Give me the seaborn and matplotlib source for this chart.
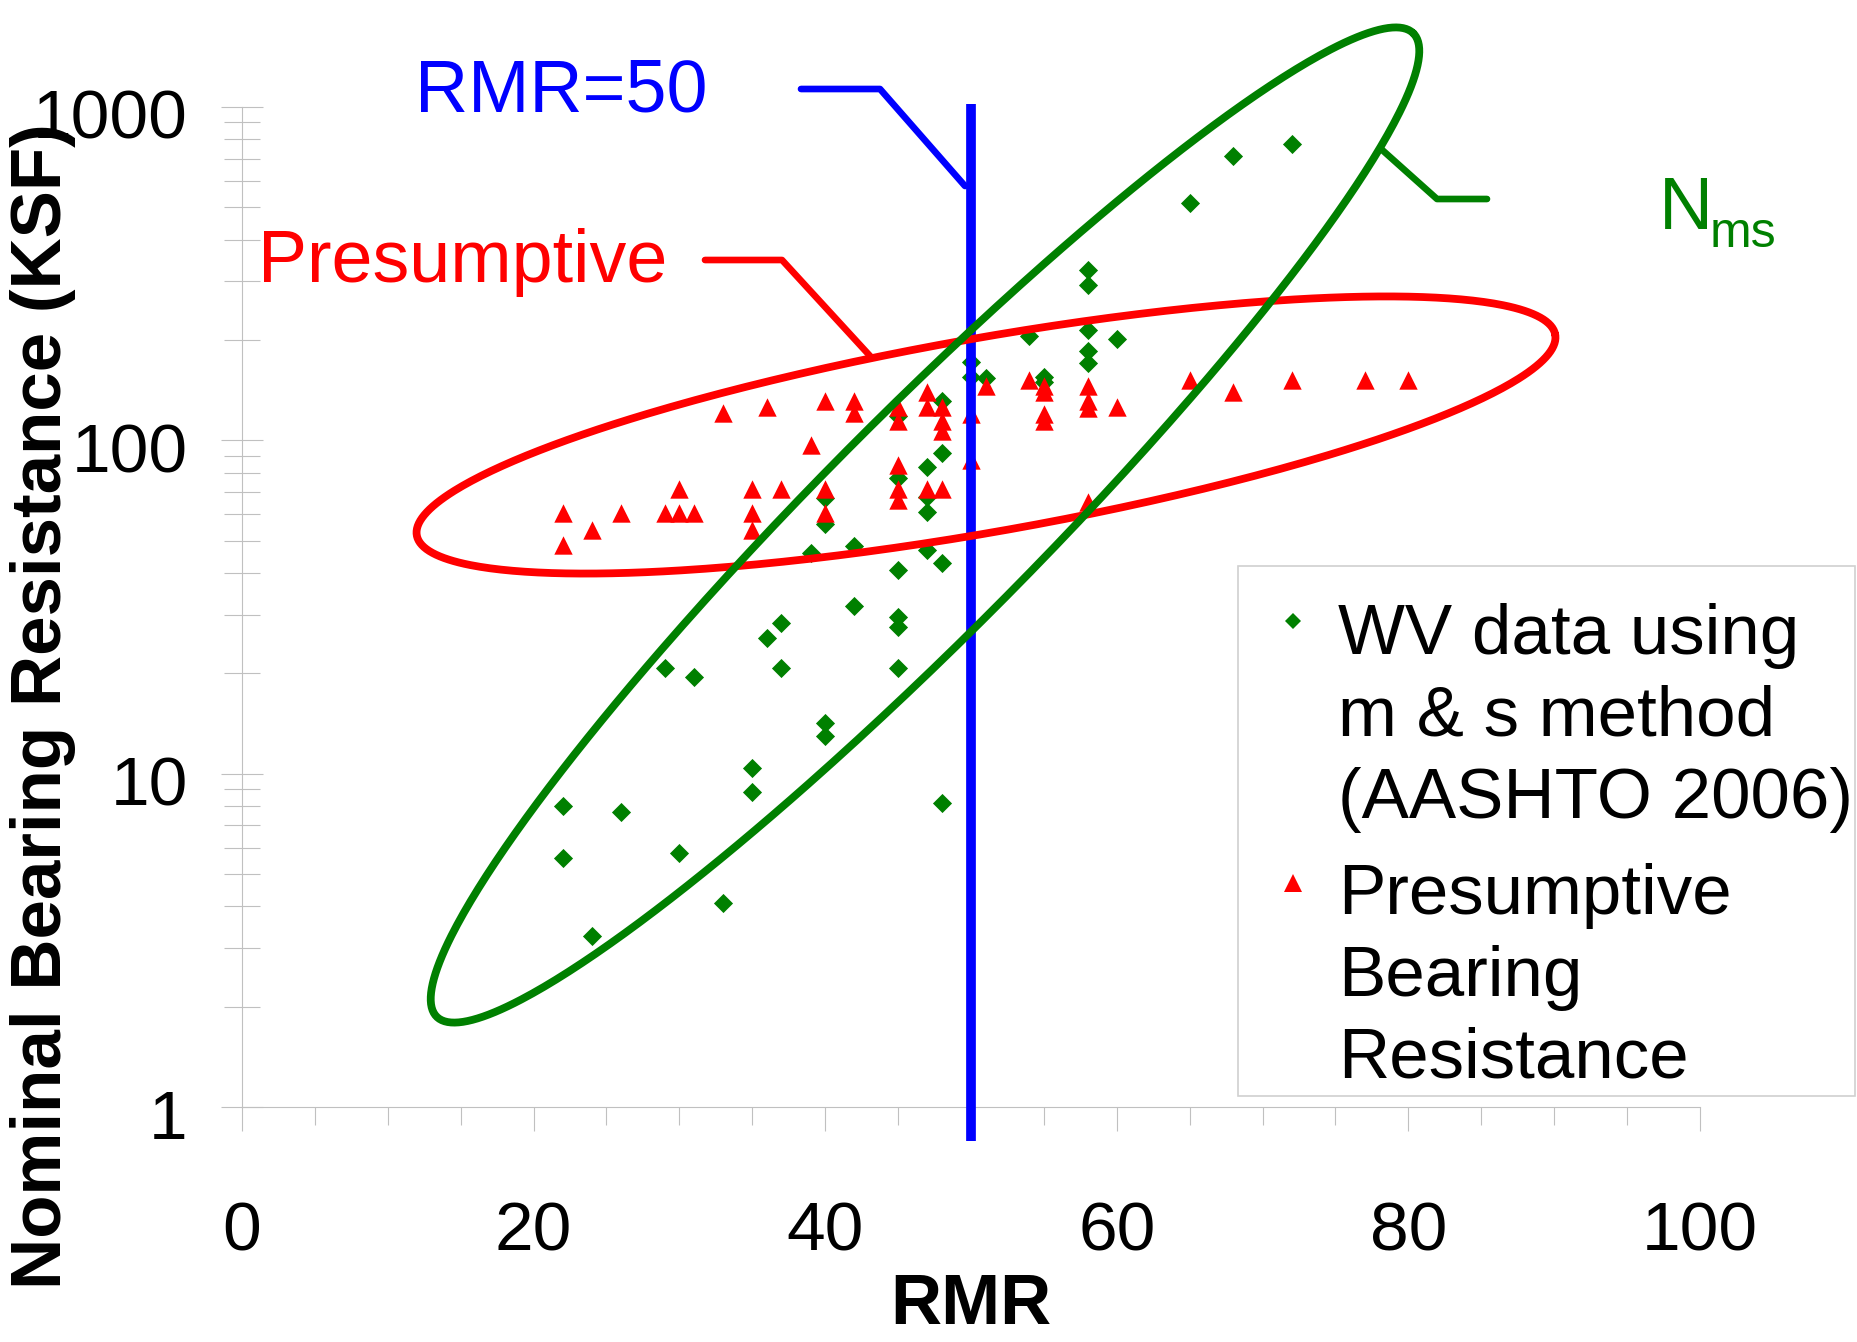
# Bearing resistance vs RMR, WV data (m & s) and presumptive values

import numpy as np
import pandas as pd
import matplotlib
matplotlib.use("Agg")
import matplotlib.pyplot as plt
import seaborn as sns
from matplotlib.lines import Line2D
from matplotlib.patches import Rectangle
from matplotlib.ticker import FixedLocator, LogLocator, NullFormatter
from matplotlib.transforms import ScaledTranslation

# --- data ---
wv_rmr = [22, 22, 24, 26, 29, 30, 31, 33, 35, 35, 36, 37, 37, 39, 40, 40, 40, 40,
          42, 42, 45, 45, 45, 45, 45, 45, 47, 47, 47, 47, 48, 48, 48, 48,
          50, 50, 51, 54, 55, 55, 58, 58, 58, 58, 58, 60, 65, 68, 72]
wv_ksf = [8.0, 5.6, 3.25, 7.7, 20.7, 5.8, 19.5, 4.1, 10.4, 8.8, 25.5, 28.3, 20.7, 45.8,
          14.2, 13.0, 56, 67, 31.9, 48.2, 20.7, 27.6, 29.5, 40.9, 77, 118,
          47, 61, 67.5, 83, 8.15, 43, 91.4, 131, 155, 172, 154, 205, 150, 155,
          171, 185, 214, 293, 325, 202, 517, 715, 775]

pres_rmr = [22, 22, 24, 26, 29, 30, 30, 31, 33, 35, 35, 35, 36, 37, 39, 40, 40, 40,
            42, 42, 45, 45, 45, 45, 45, 47, 47, 47, 48, 48, 48, 48, 50, 50, 51,
            54, 55, 55, 55, 55, 58, 58, 58, 58, 60, 65, 68, 72, 77, 80]
pres_ksf = [48.5, 60.7, 53.9, 60.7, 60.7, 60.7, 71.3, 60.7, 121, 53.9, 60.7, 71.3,
            126, 71.3, 97, 60.7, 71.3, 131.6, 120.5, 131.6, 66, 71.3, 84.4, 114, 126,
            71.3, 126, 140, 71.3, 107, 114, 126, 87, 120, 146, 152, 114, 120, 140,
            146, 65.5, 125, 131, 146, 126, 152, 140, 152, 152, 152]

x_ticks = [0, 20, 40, 60, 80, 100]
y_ticks = [1, 10, 100, 1000]
y_tick_labels = ["1", "10", "100", "1000"]
rmr_cut = 50
legend_labels = ["WV data using\nm & s method\n(AASHTO 2006)",
                 "Presumptive\nBearing\nResistance"]

df_wv = pd.DataFrame({"RMR": wv_rmr, "KSF": wv_ksf})
df_pres = pd.DataFrame({"RMR": pres_rmr, "KSF": pres_ksf})

GREEN, RED, BLUE, GREY = "#008000", "#ff0000", "#0000ff", "#c0c0c0"

sns.set_style("white")
plt.rcParams["font.family"] = ["Liberation Sans", "DejaVu Sans"]
plt.rcParams["text.color"] = "black"
plt.rcParams["xtick.labelcolor"] = "black"
plt.rcParams["ytick.labelcolor"] = "black"

W, H = 1858, 1342
fig = plt.figure(figsize=(W / 100, H / 100), dpi=100)
ax = fig.add_axes([242 / W, 1 - 1107 / H, 1458 / W, 1000 / H])


def fig_xy(x, y):
    # pixel position in the picture -> figure fraction
    return np.asarray(x) / W, 1 - np.asarray(y) / H


def ellipse_px(cx, cy, a, b, ang):
    t = np.linspace(0, 2 * np.pi, 500)
    th = np.radians(ang)
    x = cx + a * np.cos(t) * np.cos(th) - b * np.sin(t) * np.sin(th)
    y = cy - (a * np.cos(t) * np.sin(th) + b * np.sin(t) * np.cos(th))
    return x, y


sns.scatterplot(data=df_wv, x="RMR", y="KSF", marker="D", color=GREEN, s=95,
                linewidth=0, ax=ax, zorder=3, legend=False)
sns.scatterplot(data=df_pres, x="RMR", y="KSF", marker="^", color=RED, s=175,
                linewidth=0, ax=ax, zorder=4, legend=False)

ax.set_yscale("log")
ax.set_xlim(0, 100)
ax.set_ylim(1, 1000)

# RMR = 50 line
ax.plot([rmr_cut, rmr_cut], [0.79, 1020], color=BLUE, lw=7, clip_on=False, zorder=6,
        solid_capstyle="butt")

# axes styling
for side in ["top", "right"]:
    ax.spines[side].set_visible(False)
for side in ["left", "bottom"]:
    ax.spines[side].set_color(GREY)
    ax.spines[side].set_linewidth(0.8)

ax.xaxis.set_major_locator(FixedLocator(x_ticks))
ax.xaxis.set_minor_locator(FixedLocator(np.arange(0, 101, 5)))
ax.set_xticklabels([str(v) for v in x_ticks])
ax.yaxis.set_major_locator(FixedLocator(y_ticks))
ax.set_yticklabels(y_tick_labels)
ax.yaxis.set_minor_locator(LogLocator(base=10, subs=np.arange(2, 10)))
ax.yaxis.set_minor_formatter(NullFormatter())

ax.tick_params(axis="x", which="major", direction="out", length=17, width=0.8,
               color=GREY, labelsize=50, pad=50, bottom=True)
ax.tick_params(axis="x", which="minor", direction="out", length=13, width=0.8,
               color=GREY, bottom=True)
ax.tick_params(axis="y", which="major", direction="inout", length=30, width=0.8,
               color=GREY, labelsize=50, pad=24, left=True)
ax.tick_params(axis="y", which="minor", direction="inout", length=26, width=0.8,
               color=GREY, left=True)
# nudge y tick labels slightly down, as in the reference
shift = ScaledTranslation(0, -5 / 72, fig.dpi_scale_trans)
for lab in ax.get_yticklabels():
    lab.set_transform(lab.get_transform() + shift)
ax.set_xlabel("")
ax.set_ylabel("")

fig.text(*fig_xy(971, 1306), "RMR", fontsize=51, fontweight="bold",
         ha="center", va="center")
fig.text(*fig_xy(43, 706), "Nominal Bearing Resistance (KSF)", fontsize=51,
         fontweight="bold", rotation=90, ha="center", va="center")

# ellipses around each group
ex, ey = ellipse_px(986, 435, 578, 97, 10)
fig.add_artist(Line2D(*fig_xy(ex, ey), color=RED, lw=5.6, zorder=7))
ex, ey = ellipse_px(925, 525, 693, 108, 45.2)
fig.add_artist(Line2D(*fig_xy(ex, ey), color=GREEN, lw=5.6, zorder=7))

# callouts
fig.add_artist(Line2D(*fig_xy([801, 880, 965], [89, 89, 186]), color=BLUE, lw=4.8, zorder=7))
fig.add_artist(Line2D(*fig_xy([705, 782, 871], [260, 260, 357]), color=RED, lw=4.8, zorder=7))
fig.add_artist(Line2D(*fig_xy([1487, 1437, 1380], [199, 199, 148]), color=GREEN, lw=4.8, zorder=7))

fig.text(*fig_xy(415, 112), "RMR=50", color=BLUE, fontsize=53, va="baseline")
fig.text(*fig_xy(258, 282), "Presumptive", color=RED, fontsize=53, va="baseline")
fig.text(*fig_xy(1659, 229), "N", color=GREEN, fontsize=54, va="baseline")
fig.text(*fig_xy(1710, 247), "ms", color=GREEN, fontsize=36, va="baseline")

# legend box
lx, ly = fig_xy(1238, 1096)
fig.add_artist(Rectangle((lx, ly), 617 / W, 530 / H, transform=fig.transFigure,
                         facecolor="white", edgecolor="#d0d0d0", lw=1.2, zorder=8))
fig.add_artist(Line2D(*fig_xy([1293], [621]), marker="D", ms=8.5, color=GREEN,
                      mew=0, lw=0, zorder=9))
fig.add_artist(Line2D(*fig_xy([1293], [883]), marker="^", ms=12.5, color=RED,
                      mew=0, lw=0, zorder=9))
for label, base in zip(legend_labels, [654, 914]):
    for i, line in enumerate(label.split("\n")):
        fig.text(*fig_xy(1338, base + 82 * i), line, fontsize=51, va="baseline",
                 zorder=10)

fig.savefig("out.png", dpi=100)
